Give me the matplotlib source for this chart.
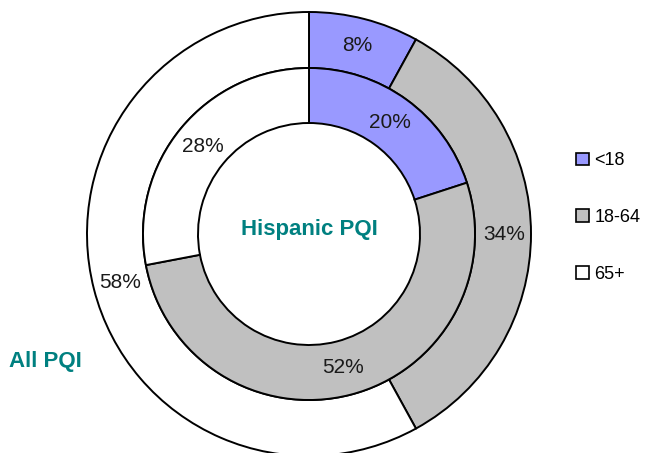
import matplotlib.pyplot as plt
from matplotlib.patches import Patch

age_groups = ["<18", "18-64", "65+"]
all_pqi = [8, 34, 58]
hispanic_pqi = [20, 52, 28]
colors = ["#9999FF", "#C0C0C0", "#FFFFFF"]
teal = "#008080"

plt.rcParams['font.family'] = ['Liberation Sans', 'DejaVu Sans']

fig = plt.figure(figsize=(6.47, 4.53), dpi=100)
ax = fig.add_axes([0, 0, 1, 1])

cx, cy = 309, 453 - 234
r_out, r_mid, r_in = 222, 166, 111
edge = dict(edgecolor='black', linewidth=1.4)

pct = lambda p: f"{p:.0f}%"

ax.pie(all_pqi, colors=colors, radius=r_out, center=(cx, cy),
       startangle=90, counterclock=False, autopct=pct,
       pctdistance=195 / r_out,
       wedgeprops=dict(width=r_out - r_mid, **edge),
       textprops=dict(fontsize=15, color='#1a1a1a'), frame=True)
ax.pie(hispanic_pqi, colors=colors, radius=r_mid, center=(cx, cy),
       startangle=90, counterclock=False, autopct=pct,
       pctdistance=138 / r_mid,
       wedgeprops=dict(width=r_mid - r_in, **edge),
       textprops=dict(fontsize=15, color='#1a1a1a'), frame=True)
ax.set_xlim(0, 647)
ax.set_ylim(0, 453)
ax.set_aspect('equal')
ax.axis('off')

ax.text(cx, 453 - 230, "Hispanic PQI", ha='center', va='center', fontsize=16,
        fontweight='bold', color=teal)
ax.text(45, 453 - 362, "All PQI", ha='center', va='center', fontsize=16,
        fontweight='bold', color=teal)

handles = [Patch(facecolor=c, edgecolor='black', linewidth=1.2) for c in colors]
ax.legend(handles, age_groups, loc='upper left', bbox_to_anchor=(560 / 647, 1 - 136 / 453),
          frameon=False, fontsize=13, handlelength=0.7, handleheight=0.7,
          handletextpad=0.3, labelspacing=2.2)

fig.savefig("out.png", dpi=100)
